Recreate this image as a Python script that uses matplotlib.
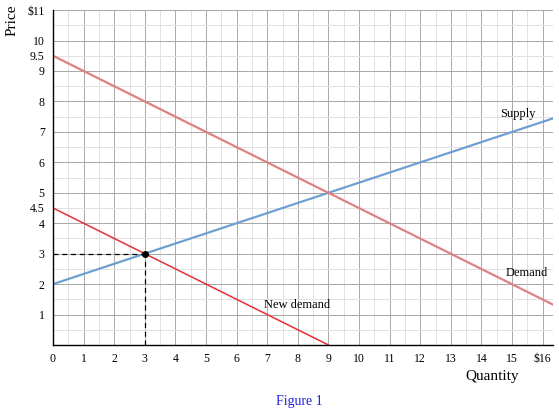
import matplotlib
matplotlib.use("Agg")
import matplotlib.pyplot as plt
import numpy as np

plt.rcParams['font.family'] = ['Liberation Serif', 'DejaVu Serif']

supply_q = [0, 16.33]
supply_p = [2, 7.44]
demand_q = [0, 16.33]
demand_p = [9.5, 1.33]
newdem_q = [0, 9]
newdem_p = [4.5, 0]
point = (3, 3)
xticks = list(range(0, 17))
xlabels = [str(i) for i in range(0, 16)] + ['$16']
yticks = [1, 2, 3, 4, 4.5, 5, 6, 7, 8, 9, 9.5, 10, 11]
ylabels = ['1', '2', '3', '4', '4.5', '5', '6', '7', '8', '9', '9.5', '10', '$11']

fig = plt.figure(figsize=(5.59, 4.15), dpi=100)
ax = fig.add_axes([0.0948, 0.1687, 0.894, 0.807])
ax.set_xlim(0, 16.33)
ax.set_ylim(0, 11)
for v in np.arange(0, 16.5, 0.5):
    ax.axvline(v, color='#e2e2e2' if v % 1 else '#a8a8a8', lw=0.7, zorder=0)
for v in np.arange(0, 11.01, 0.5):
    ax.axhline(v, color='#e2e2e2' if v % 1 else '#a8a8a8', lw=0.7, zorder=0)

ax.plot(supply_q, supply_p, color='#6f9fd0', lw=1.6)
ax.plot(demand_q, demand_p, color='#e08080', lw=1.6)
ax.plot(newdem_q, newdem_p, color='#e83030', lw=1.1)
ax.plot([0, point[0]], [point[1], point[1]], 'k--', lw=0.9, dashes=(4, 3))
ax.plot([point[0], point[0]], [0, point[1]], 'k--', lw=0.9, dashes=(4, 3))
ax.plot(*point, 'o', color='black', ms=4)

ax.text(14.6, 7.5, 'Supply', fontsize=9)
ax.text(14.8, 2.25, 'Demand', fontsize=9)
ax.text(6.9, 1.2, 'New demand', fontsize=9)

ax.set_xticks(xticks)
ax.set_xticklabels(xlabels, fontsize=8.5)
ax.set_yticks(yticks)
ax.set_yticklabels(ylabels, fontsize=8.5)
ax.tick_params(length=0, pad=6)
for s in ['top', 'right']:
    ax.spines[s].set_visible(False)
ax.spines['left'].set_linewidth(1)
ax.spines['bottom'].set_linewidth(1)

fig.text(0.022, 0.95, 'Price', rotation=90, fontsize=11, va='center', ha='center')
fig.text(0.88, 0.085, 'Quantity', fontsize=11, ha='center')
fig.text(0.535, 0.025, 'Figure 1', fontsize=10, color='#2020e0', ha='center')
fig.savefig('out.png', dpi=100)
